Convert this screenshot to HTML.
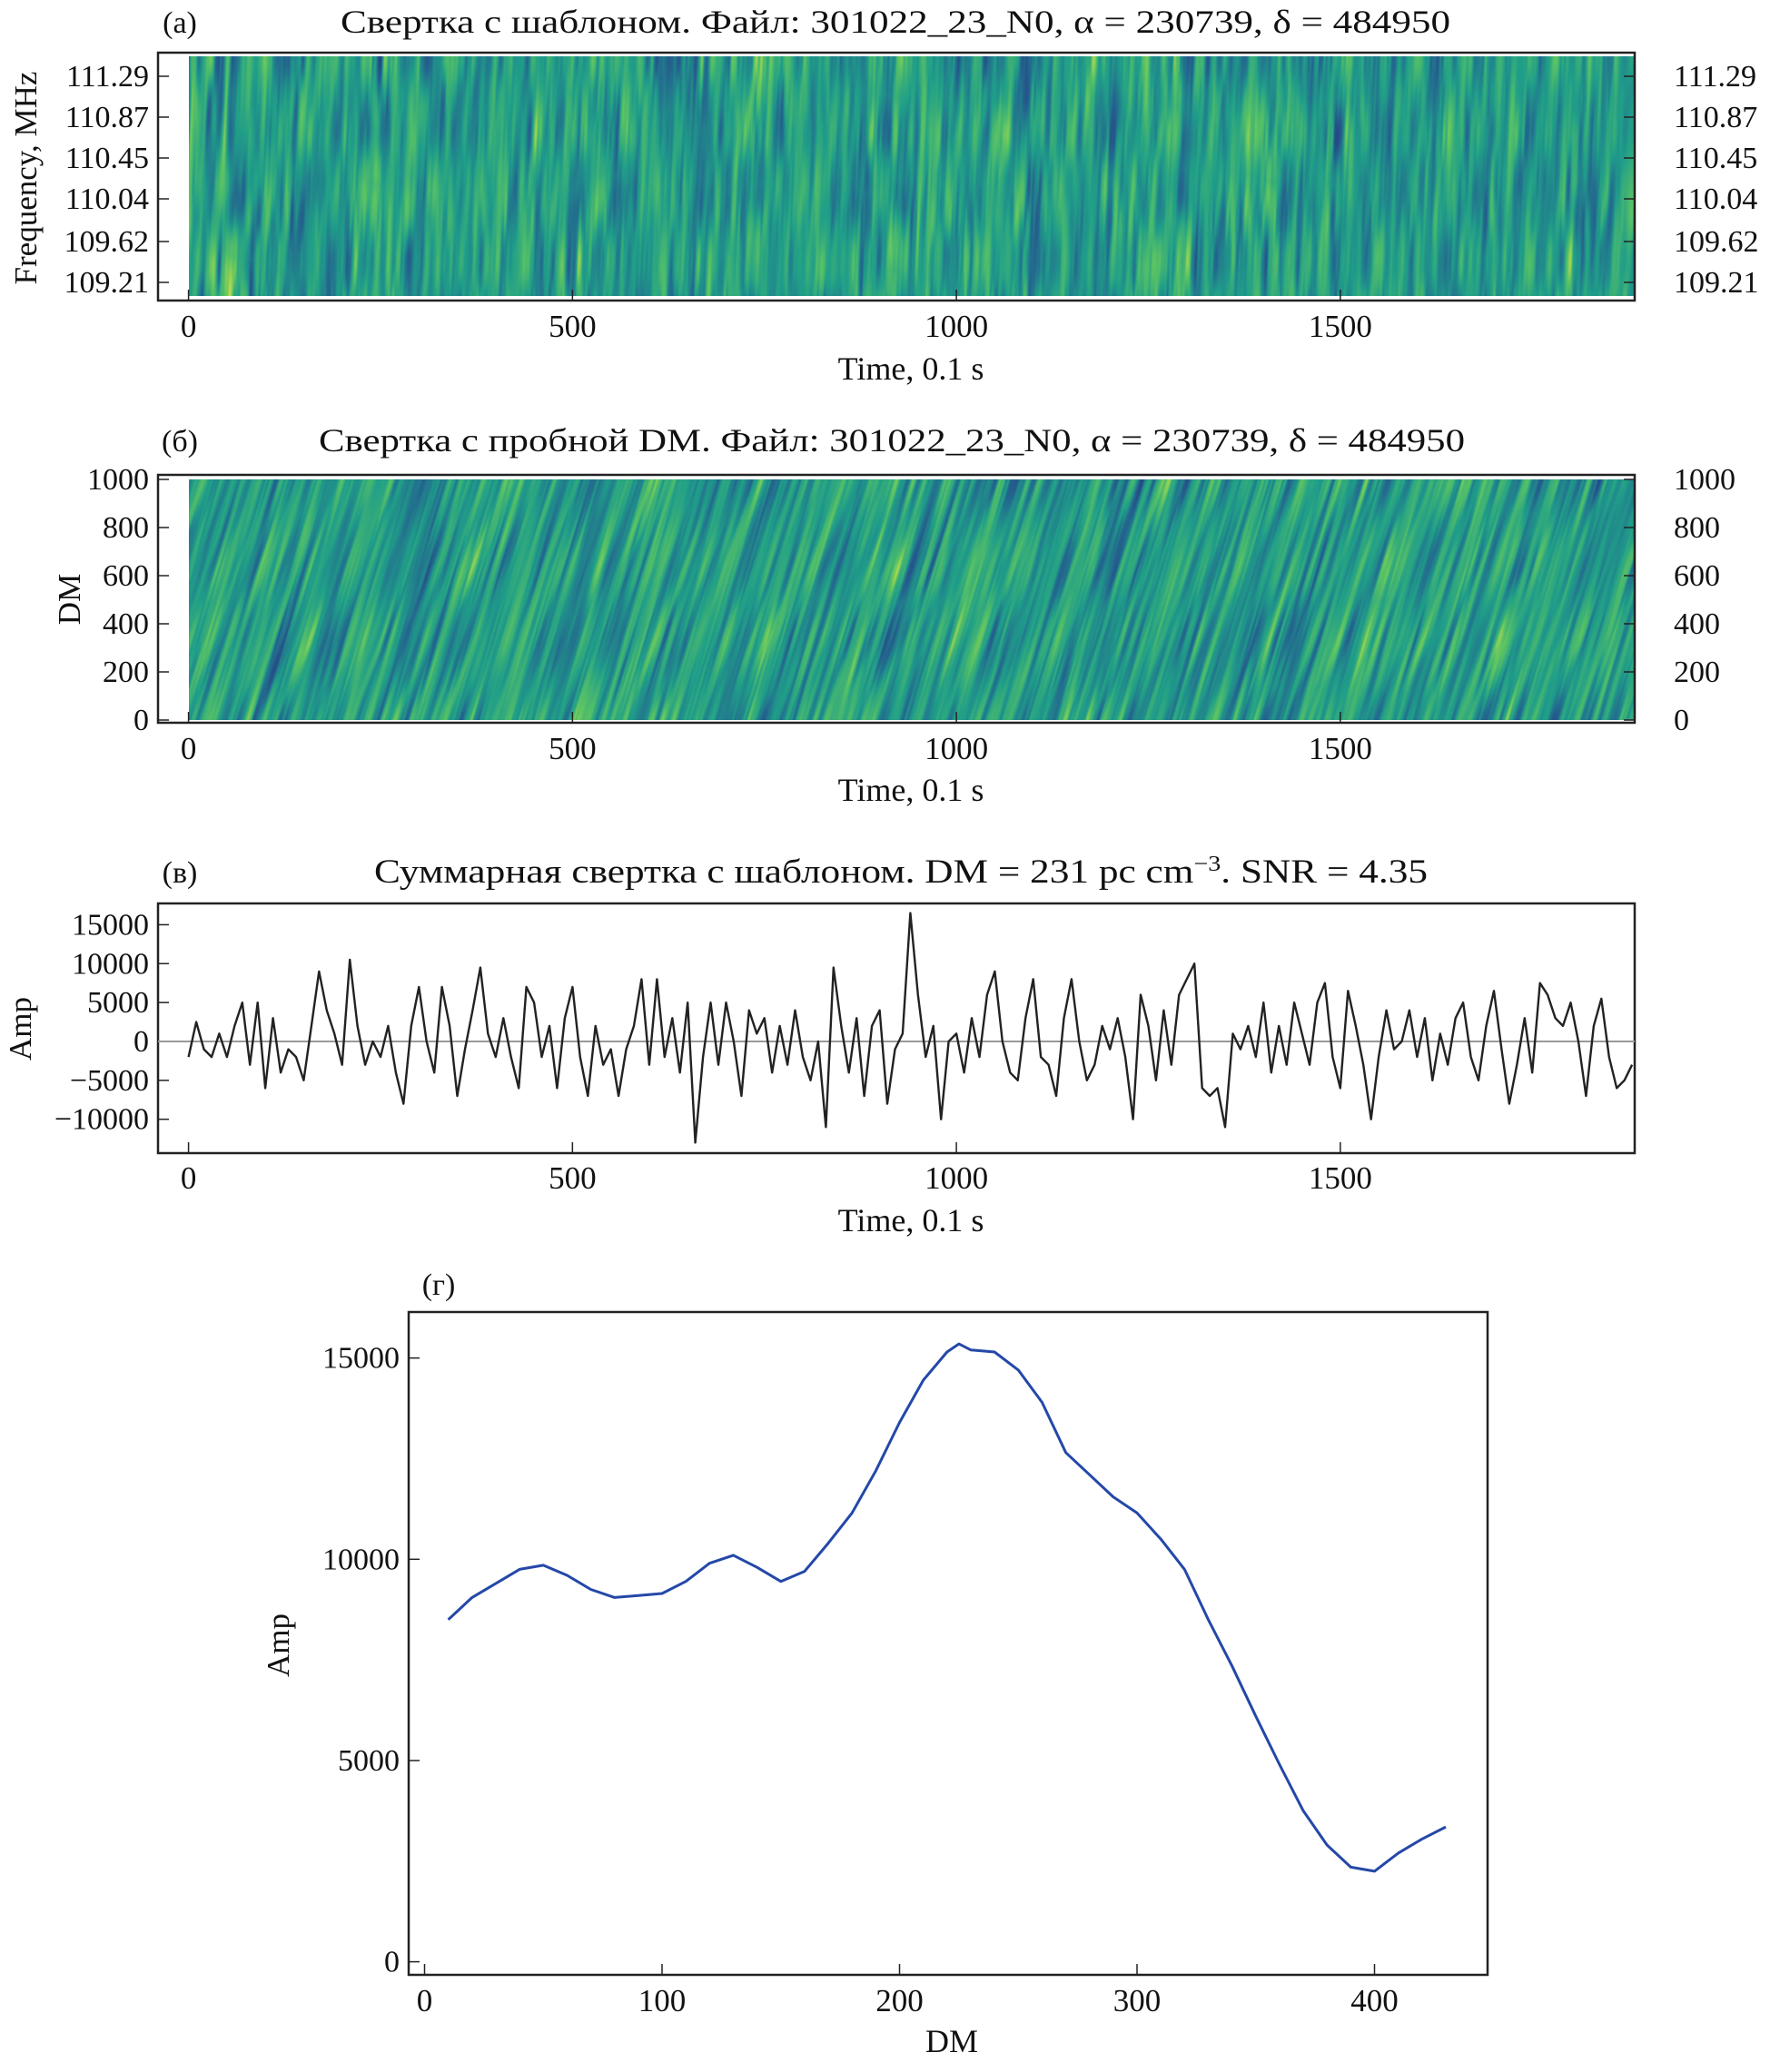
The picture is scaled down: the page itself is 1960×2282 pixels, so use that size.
<!DOCTYPE html>
<html><head><meta charset="utf-8"><style>
html,body{margin:0;padding:0;background:#fff;}
#wrap{position:relative;width:1960px;height:2282px;overflow:hidden;}
canvas{position:absolute;}
svg{position:absolute;left:0;top:0;}
text{font-family:"Liberation Serif","Noto Serif CJK SC",serif;fill:#111;}
</style></head><body>
<div id="wrap">
<canvas id="hmA" width="1592" height="264" style="left:208px;top:62px"></canvas>
<canvas id="hmB" width="1592" height="265" style="left:208px;top:528px"></canvas>
<svg id="svg" width="1960" height="2282" xmlns="http://www.w3.org/2000/svg"></svg>
</div>
<script>
// ---- data ----
const timeTicks=[0,500,1000,1500];
const freqTicks=["111.29","110.87","110.45","110.04","109.62","109.21"];
const dmTicksB=[0,200,400,600,800,1000];
const ampTicksC=[15000,10000,5000,0,-5000,-10000];
const ampLabelsC=["15000","10000","5000","0","\u22125000","\u221210000"];
const sumStep=10;
const sumAmp=[-2,2.5,-1,-2,1,-2,2,5,-3,5,-6,3,-4,-1,-2,-5,2,9,4,1,-3,10.5,2,-3,0,-2,2,-4,-8,2,7,0,-4,7,2,-7,-1,4,9.5,1,-2,3,-2,-6,7,5,-2,2,-6,3,7,-2,-7,2,-3,-1,-7,-1,2,8,-3,8,-2,3,-4,5,-13,-2,5,-3,5,0,-7,4,1,3,-4,2,-3,4,-2,-5,0,-11,9.5,2,-4,3,-7,2,4,-8,-1,1,16.5,6,-2,2,-10,0,1,-4,3,-2,6,9,0,-4,-5,3,8,-2,-3,-7,3,8,0,-5,-3,2,-1,3,-2,-10,6,2,-5,4,-3,6,8,10,-6,-7,-6,-11,1,-1,2,-2,5,-4,2,-3,5,1,-3,5,7.5,-2,-6,6.5,2,-3,-10,-2,4,-1,0,4,-2,3,-5,1,-3,3,5,-2,-5,2,6.5,-1,-8,-3,3,-4,7.5,6,3,2,5,0,-7,2,5.5,-2,-6,-5,-3];
const dmValues=[10,20,30,40,50,60,70,80,90,100,110,120,130,140,150,160,170,180,190,200,210,220,225,230,240,250,260,270,280,290,300,310,320,330,340,350,360,370,380,390,400,410,420,430];
const dmAmp=[8.5,9.05,9.4,9.75,9.85,9.6,9.25,9.05,9.1,9.15,9.45,9.9,10.1,9.8,9.45,9.7,10.4,11.15,12.2,13.4,14.45,15.15,15.35,15.2,15.15,14.7,13.9,12.65,12.1,11.55,11.15,10.5,9.75,8.5,7.35,6.1,4.9,3.75,2.9,2.35,2.25,2.7,3.05,3.35];
const dmTicksD=[0,100,200,300,400];
const ampTicksD=[0,5000,10000,15000];

const NS="http://www.w3.org/2000/svg";
const svg=document.getElementById('svg');
function el(tag,attrs,parent){const e=document.createElementNS(NS,tag);for(const k in attrs)e.setAttribute(k,attrs[k]);(parent||svg).appendChild(e);return e;}
function txt(s,x,y,size,anchor,parent,extra){const t=el('text',Object.assign({x:x,y:y,'font-size':size,'text-anchor':anchor||'middle'},extra||{}),parent);t.textContent=s;return t;}

const tx=v=>207.6+v*0.8455;
function frame(x0,y0,x1,y1,name){const r=el('rect',{x:x0,y:y0,width:x1-x0,height:y1-y0,fill:'none',stroke:'#222','stroke-width':2.5});}
function timeAxis(yb,ylab,yx,name){
  const g=el('g',{});
  timeTicks.forEach(v=>{el('line',{x1:tx(v),x2:tx(v),y1:yb,y2:yb-12,stroke:'#222','stroke-width':1.5},g);txt(String(v),tx(v),ylab,35,'middle',g);});
  txt('Time, 0.1 s',1003,yx,36,'middle',g);
}
// ---- panel a ----
frame(174,58,1800,331,'panel-a-frame');
txt('(а)',198,36,34,'middle');
txt('Свертка с шаблоном. Файл: 301022_23_N0, α = 230739, δ = 484950',986,36,36,'middle',null,{textLength:1222,lengthAdjust:'spacingAndGlyphs'});
const fy=[84,129,174,219,266,311];
freqTicks.forEach((s,i)=>{el('line',{x1:174,x2:186,y1:fy[i],y2:fy[i],stroke:'#222','stroke-width':1.5});el('line',{x1:1800,x2:1788,y1:fy[i],y2:fy[i],stroke:'#222','stroke-width':1.5});txt(s,164,fy[i]+11,34,'end');txt(s,1843,fy[i]+11,34,'start');});
txt('Frequency, MHz',0,0,35,'middle',null,{transform:'translate(40,196) rotate(-90)'});
timeAxis(331,371,418,'x-axis-a');
// ---- panel b ----
frame(174,523,1800,796,'panel-b-frame');
txt('(б)',198,497,34,'middle');
txt('Свертка с пробной DM. Файл: 301022_23_N0, α = 230739, δ = 484950',982,497,36,'middle',null,{textLength:1262,lengthAdjust:'spacingAndGlyphs'});
const by=v=>793-v*0.265;
dmTicksB.forEach(v=>{el('line',{x1:174,x2:186,y1:by(v),y2:by(v),stroke:'#222','stroke-width':1.5});el('line',{x1:1800,x2:1788,y1:by(v),y2:by(v),stroke:'#222','stroke-width':1.5});txt(String(v),164,by(v)+11,34,'end');txt(String(v),1843,by(v)+11,34,'start');});
txt('DM',0,0,35,'middle',null,{transform:'translate(88,660) rotate(-90)'});
timeAxis(796,836,882,'x-axis-b');
// ---- panel c ----
frame(174,995,1800,1270,'panel-c-frame');
txt('(в)',198,972,34,'middle');
const tc=el('text',{x:992,y:972,'font-size':37,'text-anchor':'middle',textLength:1160,lengthAdjust:'spacingAndGlyphs'});
tc.innerHTML='Суммарная свертка с шаблоном. DM = 231 pc cm<tspan dy="-13" font-size="24">−3</tspan><tspan dy="13">. SNR = 4.35</tspan>';
const cy=v=>1147-v*8.57;
ampTicksC.forEach((v,i)=>{el('line',{x1:174,x2:186,y1:cy(v/1000),y2:cy(v/1000),stroke:'#222','stroke-width':1.5});txt(ampLabelsC[i],164,cy(v/1000)+11,34,'end');});
el('line',{x1:174,x2:1800,y1:cy(0),y2:cy(0),stroke:'#999','stroke-width':2});
txt('Amp',0,0,35,'middle',null,{transform:'translate(34,1133) rotate(-90)'});
timeAxis(1270,1309,1356,'x-axis-c');
let pc=sumAmp.map((v,i)=>tx(i*sumStep).toFixed(1)+','+cy(v).toFixed(1)).join(' ');
const lc=el('polyline',{points:pc,fill:'none',stroke:'#222','stroke-width':2.4,'stroke-linejoin':'round'});

// ---- panel d ----
frame(450,1445,1638,2175,'panel-d-frame');
txt('(г)',483,1426,34,'middle');
const dx=v=>467.5+v*2.615, dy=v=>2160.6-v*0.04433;
dmTicksD.forEach(v=>{el('line',{x1:dx(v),x2:dx(v),y1:2175,y2:2163,stroke:'#222','stroke-width':1.5});txt(String(v),dx(v),2215,35,'middle');});
ampTicksD.forEach(v=>{el('line',{x1:450,x2:462,y1:dy(v),y2:dy(v),stroke:'#222','stroke-width':1.5});txt(String(v),440,dy(v)+11,34,'end');});
txt('Amp',0,0,35,'middle',null,{transform:'translate(318,1812) rotate(-90)'});
txt('DM',1048,2260,36,'middle');
const pd=dmValues.map((v,i)=>dx(v).toFixed(1)+','+dy(dmAmp[i]*1000).toFixed(1)).join(' ');
const ld=el('polyline',{points:pd,fill:'none',stroke:'#2448a8','stroke-width':3,'stroke-linejoin':'round'});


// ---- heatmaps (texture) ----
function hash(i){let h=(i*374761393)^0x5bd1e995;h=(h^(h>>>13))*1274126177;h=h^(h>>>16);return ((h>>>0)%10000)/5000-1;}
function noise(x,seed){const i=Math.floor(x),f=x-i,s=f*f*(3-2*f);return hash(i+seed)*(1-s)+hash(i+1+seed)*s;}
function noise2(x,y,seed){const j=Math.floor(y),f=y-j,s=f*f*(3-2*f);return noise(x,seed+j*7919)*(1-s)+noise(x,seed+(j+1)*7919)*s;}
const stops=[[-1,[40,55,130]],[-0.45,[35,105,142]],[0,[32,158,137]],[0.5,[90,195,100]],[1,[225,228,70]]];
function cmap(v){v=Math.max(-1,Math.min(1,v));for(let k=0;k<stops.length-1;k++){const a=stops[k],b=stops[k+1];if(v<=b[0]){const t=(v-a[0])/(b[0]-a[0]);return a[1].map((c,j)=>c+(b[1][j]-c)*t);}}return stops[4][1];}
function draw(id,slope,seed,ylen){const c=document.getElementById(id),ctx=c.getContext('2d'),W=c.width,H=c.height,im=ctx.createImageData(W,H);
 for(let y=0;y<H;y++)for(let x=0;x<W;x++){const xs=x+slope*y;
  let v=0.8*noise2(xs/6,y/ylen,seed)+0.35*noise2(xs/2.5,y/(ylen*0.6),seed+99);
  v*=0.5+0.5*Math.abs(noise2(xs/30,y/90,seed+7));
  const col=cmap(v*0.85),p=(y*W+x)*4;im.data[p]=col[0];im.data[p+1]=col[1];im.data[p+2]=col[2];im.data[p+3]=255;}
 ctx.putImageData(im,0,0);}
draw('hmA',0.04,11,75);draw('hmB',0.3,57,90);
</script>
</body></html>
